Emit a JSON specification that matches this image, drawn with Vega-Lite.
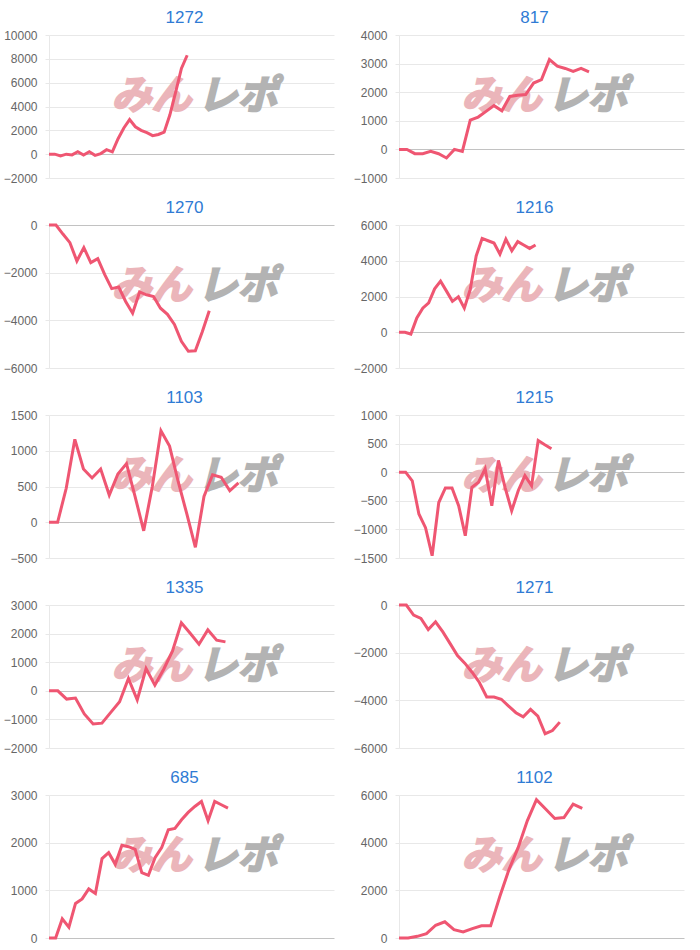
{
  "$schema": "https://vega.github.io/schema/vega-lite/v6.json",
  "padding": {"left": 3, "top": 9, "right": 5, "bottom": 5},
  "background": "white",
  "columns": 2,
  "bounds": "flush",
  "spacing": {"row": 47, "column": 65},
  "config": {
    "numberFormat": "d",
    "view": {"stroke": null},
    "title": {"fontSize": 17, "color": "#2f7bd4", "font": "Liberation Sans", "fontWeight": "normal", "offset": 2, "dx": -7},
    "axis": {
      "labelFont": "Liberation Sans", "labelFontSize": 12, "labelColor": "#666666",
      "gridColor": {"condition": {"test": "datum.value === 0", "value": "#c2c2c2"}, "value": "#e8e8e8"},
      "domainColor": "#e8e8e8", "tickColor": "#e8e8e8", "tickSize": 4, "labelPadding": 8, "title": null
    }
  },
  "datasets": {
    "wm1": [{"t": "みん"}],
    "wm2": [{"t": "レポ"}],
    "p1272": [{"i":0,"v":0},{"i":1,"v":0},{"i":2,"v":-150},{"i":3,"v":0},{"i":4,"v":-60},{"i":5,"v":200},{"i":6,"v":-80},{"i":7,"v":200},{"i":8,"v":-100},{"i":9,"v":50},{"i":10,"v":380},{"i":11,"v":200},{"i":12,"v":1300},{"i":13,"v":2200},{"i":14,"v":2900},{"i":15,"v":2300},{"i":16,"v":2000},{"i":17,"v":1800},{"i":18,"v":1550},{"i":19,"v":1650},{"i":20,"v":1850},{"i":21,"v":3300},{"i":22,"v":5200},{"i":23,"v":7200},{"i":24,"v":8300}],
    "p817": [{"i":0,"v":0},{"i":1,"v":0},{"i":2,"v":-150},{"i":3,"v":-150},{"i":4,"v":-70},{"i":5,"v":-150},{"i":6,"v":-300},{"i":7,"v":0},{"i":8,"v":-70},{"i":9,"v":1020},{"i":10,"v":1130},{"i":11,"v":1330},{"i":12,"v":1530},{"i":13,"v":1350},{"i":14,"v":1850},{"i":15,"v":1890},{"i":16,"v":1920},{"i":17,"v":2320},{"i":18,"v":2440},{"i":19,"v":3140},{"i":20,"v":2910},{"i":21,"v":2830},{"i":22,"v":2730},{"i":23,"v":2830},{"i":24,"v":2710}],
    "p1270": [{"i":0,"v":0},{"i":1,"v":0},{"i":2,"v":-380},{"i":3,"v":-740},{"i":4,"v":-1510},{"i":5,"v":-950},{"i":6,"v":-1580},{"i":7,"v":-1410},{"i":8,"v":-2080},{"i":9,"v":-2670},{"i":10,"v":-2600},{"i":11,"v":-3210},{"i":12,"v":-3700},{"i":13,"v":-2810},{"i":14,"v":-2930},{"i":15,"v":-3000},{"i":16,"v":-3490},{"i":17,"v":-3750},{"i":18,"v":-4170},{"i":19,"v":-4880},{"i":20,"v":-5300},{"i":21,"v":-5280},{"i":22,"v":-4480},{"i":23,"v":-3600}],
    "p1216": [{"i":0,"v":0},{"i":1,"v":0},{"i":2,"v":-100},{"i":3,"v":800},{"i":4,"v":1350},{"i":5,"v":1640},{"i":6,"v":2430},{"i":7,"v":2860},{"i":8,"v":2300},{"i":9,"v":1730},{"i":10,"v":1980},{"i":11,"v":1350},{"i":12,"v":2400},{"i":13,"v":4270},{"i":14,"v":5250},{"i":15,"v":5120},{"i":16,"v":4990},{"i":17,"v":4370},{"i":18,"v":5210},{"i":19,"v":4560},{"i":20,"v":5070},{"i":21,"v":4880},{"i":22,"v":4690},{"i":23,"v":4880}],
    "p1103": [{"i":0,"v":0},{"i":1,"v":0},{"i":2,"v":475},{"i":3,"v":1160},{"i":4,"v":745},{"i":5,"v":620},{"i":6,"v":745},{"i":7,"v":380},{"i":8,"v":675},{"i":9,"v":820},{"i":10,"v":360},{"i":11,"v":-120},{"i":12,"v":500},{"i":13,"v":1280},{"i":14,"v":1065},{"i":15,"v":570},{"i":16,"v":120},{"i":17,"v":-350},{"i":18,"v":360},{"i":19,"v":665},{"i":20,"v":630},{"i":21,"v":440},{"i":22,"v":550}],
    "p1215": [{"i":0,"v":0},{"i":1,"v":0},{"i":2,"v":-150},{"i":3,"v":-730},{"i":4,"v":-970},{"i":5,"v":-1460},{"i":6,"v":-530},{"i":7,"v":-275},{"i":8,"v":-275},{"i":9,"v":-585},{"i":10,"v":-1110},{"i":11,"v":-265},{"i":12,"v":-175},{"i":13,"v":60},{"i":14,"v":-585},{"i":15,"v":205},{"i":16,"v":-265},{"i":17,"v":-675},{"i":18,"v":-320},{"i":19,"v":-60},{"i":20,"v":-235},{"i":21,"v":555},{"i":22,"v":480},{"i":23,"v":410}],
    "p1335": [{"i":0,"v":0},{"i":1,"v":0},{"i":2,"v":-290},{"i":3,"v":-255},{"i":4,"v":-810},{"i":5,"v":-1160},{"i":6,"v":-1130},{"i":7,"v":-755},{"i":8,"v":-385},{"i":9,"v":430},{"i":10,"v":-315},{"i":11,"v":780},{"i":12,"v":200},{"i":13,"v":755},{"i":14,"v":1395},{"i":15,"v":2380},{"i":16,"v":2010},{"i":17,"v":1630},{"i":18,"v":2130},{"i":19,"v":1770},{"i":20,"v":1710}],
    "p1271": [{"i":0,"v":0},{"i":1,"v":0},{"i":2,"v":-420},{"i":3,"v":-565},{"i":4,"v":-1030},{"i":5,"v":-705},{"i":6,"v":-1130},{"i":7,"v":-1620},{"i":8,"v":-2120},{"i":9,"v":-2440},{"i":10,"v":-2820},{"i":11,"v":-3250},{"i":12,"v":-3860},{"i":13,"v":-3860},{"i":14,"v":-3955},{"i":15,"v":-4240},{"i":16,"v":-4520},{"i":17,"v":-4690},{"i":18,"v":-4380},{"i":19,"v":-4660},{"i":20,"v":-5400},{"i":21,"v":-5270},{"i":22,"v":-4915}],
    "p685": [{"i":0,"v":0},{"i":1,"v":0},{"i":2,"v":400},{"i":3,"v":225},{"i":4,"v":725},{"i":5,"v":820},{"i":6,"v":1030},{"i":7,"v":935},{"i":8,"v":1665},{"i":9,"v":1790},{"i":10,"v":1545},{"i":11,"v":1945},{"i":12,"v":1915},{"i":13,"v":1860},{"i":14,"v":1370},{"i":15,"v":1315},{"i":16,"v":1685},{"i":17,"v":1895},{"i":18,"v":2270},{"i":19,"v":2300},{"i":20,"v":2480},{"i":21,"v":2635},{"i":22,"v":2760},{"i":23,"v":2865},{"i":24,"v":2460},{"i":25,"v":2865},{"i":26,"v":2795},{"i":27,"v":2725}],
    "p1102": [{"i":0,"v":0},{"i":1,"v":0},{"i":2,"v":70},{"i":3,"v":180},{"i":4,"v":535},{"i":5,"v":680},{"i":6,"v":350},{"i":7,"v":255},{"i":8,"v":395},{"i":9,"v":510},{"i":10,"v":510},{"i":11,"v":1740},{"i":12,"v":2870},{"i":13,"v":3790},{"i":14,"v":4915},{"i":15,"v":5805},{"i":16,"v":5410},{"i":17,"v":5015},{"i":18,"v":5055},{"i":19,"v":5620},{"i":20,"v":5440}]
  },
  "concat": [
    {"title": "1272", "width": 285, "height": 143, "layer": [
      {"data": {"name": "wm1"}, "mark": {"type": "text", "align": "right", "baseline": "middle", "dx": 0, "dy": -10, "fontSize": 40, "fontWeight": "bold", "fontStyle": "italic", "font": "Noto Sans CJK JP", "color": "#ebb5ba", "stroke": "#ebb5ba", "strokeWidth": 2}, "encoding": {"text": {"field": "t"}}},
      {"data": {"name": "wm2"}, "mark": {"type": "text", "align": "left", "baseline": "middle", "dx": 6, "dy": -10, "fontSize": 40, "fontWeight": "bold", "fontStyle": "italic", "font": "Noto Sans CJK JP", "color": "#b3b3b3", "stroke": "#b3b3b3", "strokeWidth": 2}, "encoding": {"text": {"field": "t"}}},
      {"data": {"name": "p1272"}, "mark": {"type": "line", "color": "#ef5672", "strokeWidth": 3},
       "encoding": {"x": {"field": "i", "type": "quantitative", "scale": {"domain": [0, 49.5], "nice": false}, "axis": null},
                    "y": {"field": "v", "type": "quantitative", "scale": {"domain": [-2000, 10000], "nice": false}, "axis": {"values": [-2000, 0, 2000, 4000, 6000, 8000, 10000]}}}}
    ]},
    {"title": "817", "width": 285, "height": 143, "layer": [
      {"data": {"name": "wm1"}, "mark": {"type": "text", "align": "right", "baseline": "middle", "dx": 0, "dy": -10, "fontSize": 40, "fontWeight": "bold", "fontStyle": "italic", "font": "Noto Sans CJK JP", "color": "#ebb5ba", "stroke": "#ebb5ba", "strokeWidth": 2}, "encoding": {"text": {"field": "t"}}},
      {"data": {"name": "wm2"}, "mark": {"type": "text", "align": "left", "baseline": "middle", "dx": 6, "dy": -10, "fontSize": 40, "fontWeight": "bold", "fontStyle": "italic", "font": "Noto Sans CJK JP", "color": "#b3b3b3", "stroke": "#b3b3b3", "strokeWidth": 2}, "encoding": {"text": {"field": "t"}}},
      {"data": {"name": "p817"}, "mark": {"type": "line", "color": "#ef5672", "strokeWidth": 3},
       "encoding": {"x": {"field": "i", "type": "quantitative", "scale": {"domain": [0, 36], "nice": false}, "axis": null},
                    "y": {"field": "v", "type": "quantitative", "scale": {"domain": [-1000, 4000], "nice": false}, "axis": {"values": [-1000, 0, 1000, 2000, 3000, 4000]}}}}
    ]},
    {"title": "1270", "width": 285, "height": 143, "layer": [
      {"data": {"name": "wm1"}, "mark": {"type": "text", "align": "right", "baseline": "middle", "dx": 0, "dy": -10, "fontSize": 40, "fontWeight": "bold", "fontStyle": "italic", "font": "Noto Sans CJK JP", "color": "#ebb5ba", "stroke": "#ebb5ba", "strokeWidth": 2}, "encoding": {"text": {"field": "t"}}},
      {"data": {"name": "wm2"}, "mark": {"type": "text", "align": "left", "baseline": "middle", "dx": 6, "dy": -10, "fontSize": 40, "fontWeight": "bold", "fontStyle": "italic", "font": "Noto Sans CJK JP", "color": "#b3b3b3", "stroke": "#b3b3b3", "strokeWidth": 2}, "encoding": {"text": {"field": "t"}}},
      {"data": {"name": "p1270"}, "mark": {"type": "line", "color": "#ef5672", "strokeWidth": 3},
       "encoding": {"x": {"field": "i", "type": "quantitative", "scale": {"domain": [0, 40.9], "nice": false}, "axis": null},
                    "y": {"field": "v", "type": "quantitative", "scale": {"domain": [-6000, 0], "nice": false}, "axis": {"values": [-6000, -4000, -2000, 0]}}}}
    ]},
    {"title": "1216", "width": 285, "height": 143, "layer": [
      {"data": {"name": "wm1"}, "mark": {"type": "text", "align": "right", "baseline": "middle", "dx": 0, "dy": -10, "fontSize": 40, "fontWeight": "bold", "fontStyle": "italic", "font": "Noto Sans CJK JP", "color": "#ebb5ba", "stroke": "#ebb5ba", "strokeWidth": 2}, "encoding": {"text": {"field": "t"}}},
      {"data": {"name": "wm2"}, "mark": {"type": "text", "align": "left", "baseline": "middle", "dx": 6, "dy": -10, "fontSize": 40, "fontWeight": "bold", "fontStyle": "italic", "font": "Noto Sans CJK JP", "color": "#b3b3b3", "stroke": "#b3b3b3", "strokeWidth": 2}, "encoding": {"text": {"field": "t"}}},
      {"data": {"name": "p1216"}, "mark": {"type": "line", "color": "#ef5672", "strokeWidth": 3},
       "encoding": {"x": {"field": "i", "type": "quantitative", "scale": {"domain": [0, 48], "nice": false}, "axis": null},
                    "y": {"field": "v", "type": "quantitative", "scale": {"domain": [-2000, 6000], "nice": false}, "axis": {"values": [-2000, 0, 2000, 4000, 6000]}}}}
    ]},
    {"title": "1103", "width": 285, "height": 143, "layer": [
      {"data": {"name": "wm1"}, "mark": {"type": "text", "align": "right", "baseline": "middle", "dx": 0, "dy": -10, "fontSize": 40, "fontWeight": "bold", "fontStyle": "italic", "font": "Noto Sans CJK JP", "color": "#ebb5ba", "stroke": "#ebb5ba", "strokeWidth": 2}, "encoding": {"text": {"field": "t"}}},
      {"data": {"name": "wm2"}, "mark": {"type": "text", "align": "left", "baseline": "middle", "dx": 6, "dy": -10, "fontSize": 40, "fontWeight": "bold", "fontStyle": "italic", "font": "Noto Sans CJK JP", "color": "#b3b3b3", "stroke": "#b3b3b3", "strokeWidth": 2}, "encoding": {"text": {"field": "t"}}},
      {"data": {"name": "p1103"}, "mark": {"type": "line", "color": "#ef5672", "strokeWidth": 3},
       "encoding": {"x": {"field": "i", "type": "quantitative", "scale": {"domain": [0, 33.1], "nice": false}, "axis": null},
                    "y": {"field": "v", "type": "quantitative", "scale": {"domain": [-500, 1500], "nice": false}, "axis": {"values": [-500, 0, 500, 1000, 1500]}}}}
    ]},
    {"title": "1215", "width": 285, "height": 143, "layer": [
      {"data": {"name": "wm1"}, "mark": {"type": "text", "align": "right", "baseline": "middle", "dx": 0, "dy": -10, "fontSize": 40, "fontWeight": "bold", "fontStyle": "italic", "font": "Noto Sans CJK JP", "color": "#ebb5ba", "stroke": "#ebb5ba", "strokeWidth": 2}, "encoding": {"text": {"field": "t"}}},
      {"data": {"name": "wm2"}, "mark": {"type": "text", "align": "left", "baseline": "middle", "dx": 6, "dy": -10, "fontSize": 40, "fontWeight": "bold", "fontStyle": "italic", "font": "Noto Sans CJK JP", "color": "#b3b3b3", "stroke": "#b3b3b3", "strokeWidth": 2}, "encoding": {"text": {"field": "t"}}},
      {"data": {"name": "p1215"}, "mark": {"type": "line", "color": "#ef5672", "strokeWidth": 3},
       "encoding": {"x": {"field": "i", "type": "quantitative", "scale": {"domain": [0, 43], "nice": false}, "axis": null},
                    "y": {"field": "v", "type": "quantitative", "scale": {"domain": [-1500, 1000], "nice": false}, "axis": {"values": [-1500, -1000, -500, 0, 500, 1000]}}}}
    ]},
    {"title": "1335", "width": 285, "height": 143, "layer": [
      {"data": {"name": "wm1"}, "mark": {"type": "text", "align": "right", "baseline": "middle", "dx": 0, "dy": -10, "fontSize": 40, "fontWeight": "bold", "fontStyle": "italic", "font": "Noto Sans CJK JP", "color": "#ebb5ba", "stroke": "#ebb5ba", "strokeWidth": 2}, "encoding": {"text": {"field": "t"}}},
      {"data": {"name": "wm2"}, "mark": {"type": "text", "align": "left", "baseline": "middle", "dx": 6, "dy": -10, "fontSize": 40, "fontWeight": "bold", "fontStyle": "italic", "font": "Noto Sans CJK JP", "color": "#b3b3b3", "stroke": "#b3b3b3", "strokeWidth": 2}, "encoding": {"text": {"field": "t"}}},
      {"data": {"name": "p1335"}, "mark": {"type": "line", "color": "#ef5672", "strokeWidth": 3},
       "encoding": {"x": {"field": "i", "type": "quantitative", "scale": {"domain": [0, 32.3], "nice": false}, "axis": null},
                    "y": {"field": "v", "type": "quantitative", "scale": {"domain": [-2000, 3000], "nice": false}, "axis": {"values": [-2000, -1000, 0, 1000, 2000, 3000]}}}}
    ]},
    {"title": "1271", "width": 285, "height": 143, "layer": [
      {"data": {"name": "wm1"}, "mark": {"type": "text", "align": "right", "baseline": "middle", "dx": 0, "dy": -10, "fontSize": 40, "fontWeight": "bold", "fontStyle": "italic", "font": "Noto Sans CJK JP", "color": "#ebb5ba", "stroke": "#ebb5ba", "strokeWidth": 2}, "encoding": {"text": {"field": "t"}}},
      {"data": {"name": "wm2"}, "mark": {"type": "text", "align": "left", "baseline": "middle", "dx": 6, "dy": -10, "fontSize": 40, "fontWeight": "bold", "fontStyle": "italic", "font": "Noto Sans CJK JP", "color": "#b3b3b3", "stroke": "#b3b3b3", "strokeWidth": 2}, "encoding": {"text": {"field": "t"}}},
      {"data": {"name": "p1271"}, "mark": {"type": "line", "color": "#ef5672", "strokeWidth": 3},
       "encoding": {"x": {"field": "i", "type": "quantitative", "scale": {"domain": [0, 39], "nice": false}, "axis": null},
                    "y": {"field": "v", "type": "quantitative", "scale": {"domain": [-6000, 0], "nice": false}, "axis": {"values": [-6000, -4000, -2000, 0]}}}}
    ]},
    {"title": "685", "width": 285, "height": 143, "layer": [
      {"data": {"name": "wm1"}, "mark": {"type": "text", "align": "right", "baseline": "middle", "dx": 0, "dy": -10, "fontSize": 40, "fontWeight": "bold", "fontStyle": "italic", "font": "Noto Sans CJK JP", "color": "#ebb5ba", "stroke": "#ebb5ba", "strokeWidth": 2}, "encoding": {"text": {"field": "t"}}},
      {"data": {"name": "wm2"}, "mark": {"type": "text", "align": "left", "baseline": "middle", "dx": 6, "dy": -10, "fontSize": 40, "fontWeight": "bold", "fontStyle": "italic", "font": "Noto Sans CJK JP", "color": "#b3b3b3", "stroke": "#b3b3b3", "strokeWidth": 2}, "encoding": {"text": {"field": "t"}}},
      {"data": {"name": "p685"}, "mark": {"type": "line", "color": "#ef5672", "strokeWidth": 3},
       "encoding": {"x": {"field": "i", "type": "quantitative", "scale": {"domain": [0, 43], "nice": false}, "axis": null},
                    "y": {"field": "v", "type": "quantitative", "scale": {"domain": [0, 3000], "nice": false}, "axis": {"values": [0, 1000, 2000, 3000]}}}}
    ]},
    {"title": "1102", "width": 285, "height": 143, "layer": [
      {"data": {"name": "wm1"}, "mark": {"type": "text", "align": "right", "baseline": "middle", "dx": 0, "dy": -10, "fontSize": 40, "fontWeight": "bold", "fontStyle": "italic", "font": "Noto Sans CJK JP", "color": "#ebb5ba", "stroke": "#ebb5ba", "strokeWidth": 2}, "encoding": {"text": {"field": "t"}}},
      {"data": {"name": "wm2"}, "mark": {"type": "text", "align": "left", "baseline": "middle", "dx": 6, "dy": -10, "fontSize": 40, "fontWeight": "bold", "fontStyle": "italic", "font": "Noto Sans CJK JP", "color": "#b3b3b3", "stroke": "#b3b3b3", "strokeWidth": 2}, "encoding": {"text": {"field": "t"}}},
      {"data": {"name": "p1102"}, "mark": {"type": "line", "color": "#ef5672", "strokeWidth": 3},
       "encoding": {"x": {"field": "i", "type": "quantitative", "scale": {"domain": [0, 31.1], "nice": false}, "axis": null},
                    "y": {"field": "v", "type": "quantitative", "scale": {"domain": [0, 6000], "nice": false}, "axis": {"values": [0, 2000, 4000, 6000]}}}}
    ]}
  ]
}
